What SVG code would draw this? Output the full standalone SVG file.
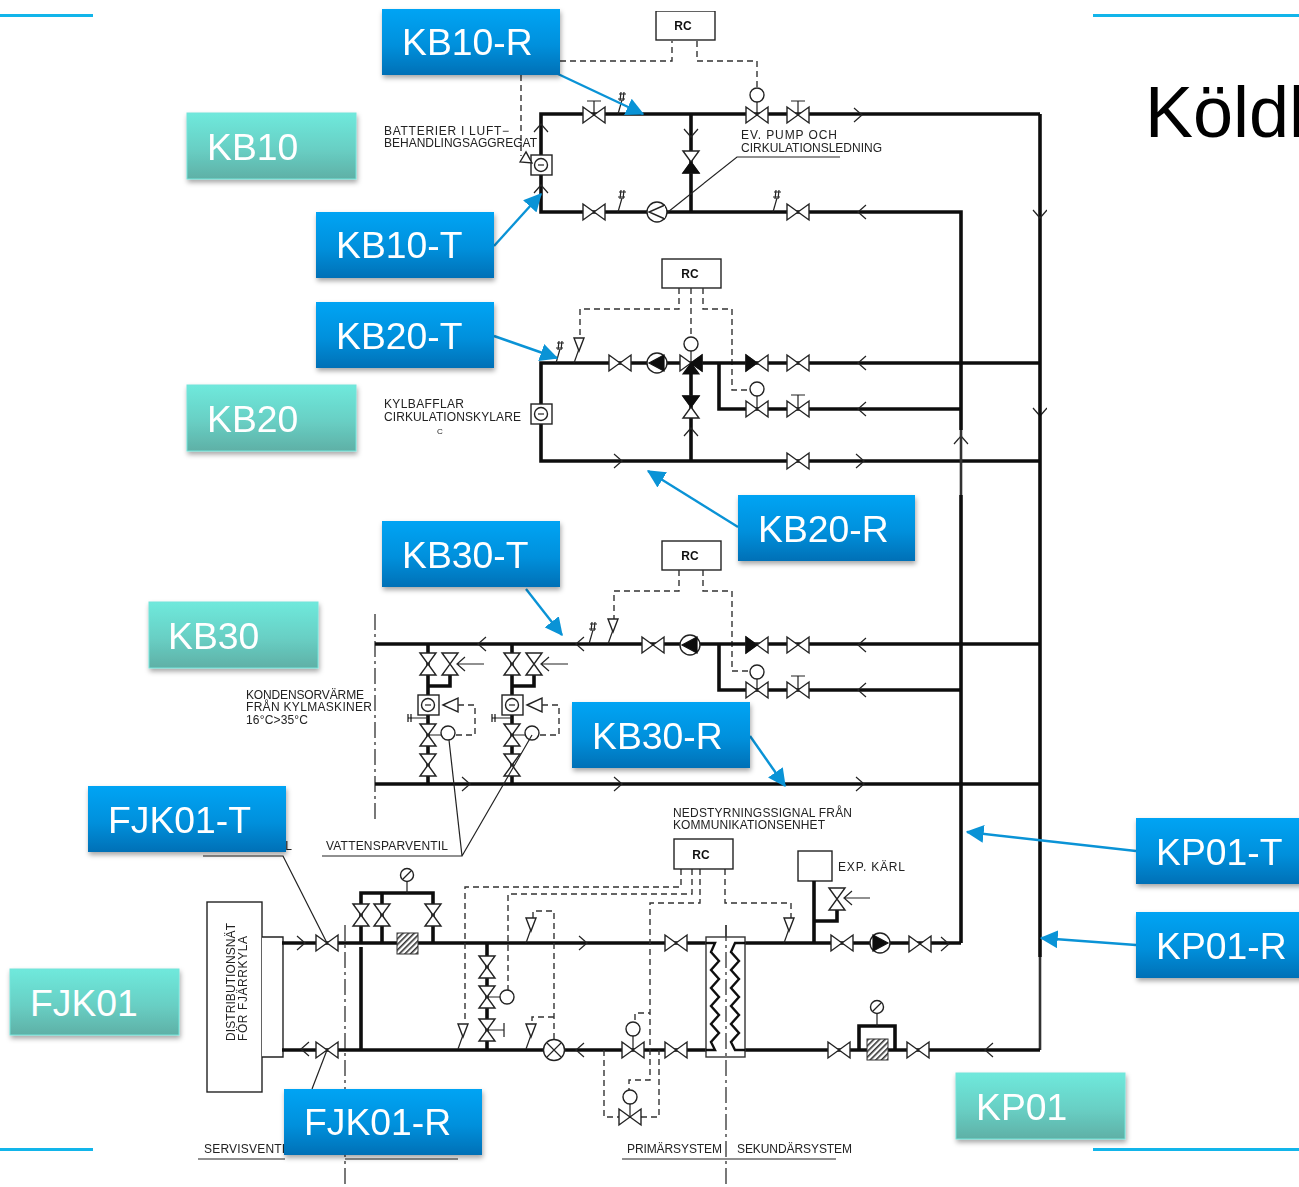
<svg xmlns="http://www.w3.org/2000/svg" width="1299" height="1187" viewBox="0 0 1299 1187">
<style>
text{font-family:"Liberation Sans",Arial,sans-serif}
.p{fill:none;stroke:#111;stroke-width:3.6;stroke-linejoin:miter}
.pg{fill:none;stroke:#333;stroke-width:2.6}
.l{fill:none;stroke:#222;stroke-width:1.2}
.d{fill:none;stroke:#333;stroke-width:1.4;stroke-dasharray:6 4}
.dd{fill:none;stroke:#333;stroke-width:1.3;stroke-dasharray:16 4 3 4}
.b{fill:#fff;stroke:#222;stroke-width:1.4}
.k{fill:#111;stroke:#111;stroke-width:1.2}
.t{font-size:12px;fill:#222}
.rc{font-size:12px;font-weight:700;fill:#111;text-anchor:middle}
.lb{font-size:37.300px;fill:#fff}
.blue{fill:url(#gb);filter:url(#sh)}
.teal{fill:url(#gt);stroke:#74e4da;stroke-width:1;filter:url(#sh)}
.cy{stroke:#12b5ea;stroke-width:3;fill:none}
.ar{stroke:#0a93d6;stroke-width:2.4;fill:none;marker-end:url(#ah)}
</style>
<defs>
<linearGradient id="gb" x1="0" y1="0" x2="0" y2="1"><stop offset="0" stop-color="#00a4f4"/><stop offset=".55" stop-color="#0090dc"/><stop offset="1" stop-color="#0070b6"/></linearGradient>
<linearGradient id="gt" x1="0" y1="0" x2="0" y2="1"><stop offset="0" stop-color="#6fe9dc"/><stop offset=".55" stop-color="#68cfc4"/><stop offset="1" stop-color="#5fb0a6"/></linearGradient>
<filter id="sh" x="-10%" y="-15%" width="120%" height="135%"><feDropShadow dx="1" dy="3" stdDeviation="2.5" flood-color="#000" flood-opacity=".35"/></filter>
<filter id="soft" x="0" y="0" width="100%" height="100%"><feGaussianBlur stdDeviation="0.35"/></filter>
<marker id="ah" viewBox="0 0 14 14" refX="13" refY="7" markerWidth="18" markerHeight="18" markerUnits="userSpaceOnUse" orient="auto"><path d="M0,0L14,7L0,14Z" fill="#0a93d6"/></marker>
<path id="v" class="b" d="M-11,-8L11,8V-8L-11,8Z"/>
<path id="vv" class="b" d="M-8,-11L8,11H-8L8,-11Z"/>
<g id="vt"><path class="l" d="M0,0V-14M-7,-14H7"/><use href="#v"/></g>
<g id="vL"><use href="#v"/><path class="k" d="M-11,-8L0,0L-11,8Z"/></g>
<path id="cr" class="l" d="M-6,-7L2,0L-6,7"/>
<path id="cl" class="l" d="M6,-7L-2,0L6,7"/>
<path id="cu" class="l" d="M-7,6L0,-2L7,6"/>
<path id="cd" class="l" d="M-7,-6L0,2L7,-6"/>
<g id="ps"><path class="l" d="M-4,0L0,-14"/><path class="l" d="M-3,-20H4M-4,-15H3M-1,-22L-2,-13M2,-22L1,-13"/></g>
<g id="fs"><path class="l" d="M-5,0L0,-14"/><path class="b" d="M-5,-25H5L0,-12Z"/></g>
<g id="pL"><circle class="b" r="10"/><path class="b" d="M8,-7L-8,0L8,7"/></g>
<g id="pB"><circle class="b" r="10"/><path class="k" d="M7,-8L-8,0L7,8Z"/></g>
<g id="pR"><circle class="b" r="10"/><path class="k" d="M-7,-8L8,0L-7,8Z"/></g>
<circle id="ac" class="b" r="7"/>
<g id="bx"><rect class="b" x="-10" y="-10" width="21" height="20"/><circle class="b" r="6.5"/><path class="l" d="M-3,0H3"/></g>
<g id="ga"><circle class="b" r="6.5"/><path class="l" d="M-4,4L4,-4"/></g>
<pattern id="ha" width="4" height="4" patternUnits="userSpaceOnUse" patternTransform="rotate(-45)"><rect width="4" height="4" fill="#fff"/><rect width="4" height="1.6" fill="#333"/></pattern>
<g id="mod">
<path class="p" d="M0,0V140M0,42H22V28"/>
<use href="#vv" y="20"/><use href="#vv" x="22" y="20"/>
<path class="l" d="M56,20H30M37,13L29,20L37,27"/>
<use href="#bx" y="61"/>
<path class="b" d="M15,61L30,54V68Z"/>
<path class="d" d="M30,61H47V91H27"/>
<path class="l" d="M0,91H14M-20,74H0"/>
<path class="k" d="M-20,70V78M-17,70V78"/>
<use href="#vv" y="91"/><use href="#vv" y="121"/>
<use href="#ac" x="20" y="89"/>
</g>
</defs>

<rect width="1299" height="1187" fill="#fff"/>
<g id="frame">
<path class="cy" d="M0,15.500H93M1093,15.500H1299M0,1149.500H93M1093,1149.500H1299"/>
<text x="1145" y="137" font-size="72" fill="#000">Köldl</text>
</g>

<g id="schematic" filter="url(#soft)">
<g id="kb10-circuit">
<rect class="b" x="656" y="11" width="59" height="29"/><text class="rc" x="683" y="30">RC</text>
<path class="d" d="M560,61H672V41M697,41V61H757V88M521,75V156"/>
<path class="p" d="M1040,114H541V212H961V430M691,114V212"/>
<path class="p" d="M1040,114V395"/>
<use href="#vt" x="594" y="115"/><use href="#ps" x="622" y="114"/>
<path class="l" d="M757,102V115"/><use href="#ac" x="757" y="95"/><use href="#v" x="757" y="115"/>
<use href="#vt" x="798" y="115"/><use href="#cr" x="860" y="115"/>
<use href="#cd" x="691" y="135"/><use href="#vv" x="691" y="162"/><path class="k" d="M683,173L691,162L699,173Z"/>
<use href="#bx" x="541" y="165"/><path class="b" d="M520,162L526,152L532,163Z"/>
<use href="#cu" x="541" y="126"/><use href="#cu" x="541" y="187"/>
<use href="#cd" x="1040" y="216"/>
<use href="#v" x="594" y="212"/><use href="#ps" x="622" y="212"/><use href="#pL" x="657" y="212"/>
<use href="#ps" x="777" y="212"/><use href="#v" x="798" y="212"/><use href="#cl" x="860" y="212"/>
<path class="l" d="M840,157H737L668,212"/>
<text class="t" x="384" y="135" textLength="125" lengthAdjust="spacing">BATTERIER I LUFT−</text>
<text class="t" x="384" y="147" textLength="153" lengthAdjust="spacing">BEHANDLINGSAGGREGAT</text>
<text class="t" x="741" y="139" textLength="96" lengthAdjust="spacing">EV. PUMP OCH</text>
<text class="t" x="741" y="152" textLength="141" lengthAdjust="spacing">CIRKULATIONSLEDNING</text>
</g>

<g id="kb20-circuit">
<rect class="b" x="662" y="259" width="59" height="29"/><text class="rc" x="690" y="278">RC</text>
<path class="d" d="M679,288V309H580V338M703,288V309H732V390H750"/>
<path class="d" d="M691,288V338" stroke-dasharray="10 3"/>
<path class="p" d="M1040,363H541V461H1040M691,363V461M719,363V409H961"/>
<use href="#ps" x="560" y="363"/><use href="#fs" x="579" y="363"/>
<use href="#v" x="620" y="363"/><use href="#pB" x="657" y="363"/>
<path class="l" d="M691,351V363"/><use href="#ac" x="691" y="344"/>
<use href="#v" x="691" y="363"/><path class="k" d="M691,363L683,374H699ZM691,363L702,355V371Z"/>
<use href="#vL" x="757" y="363"/><use href="#v" x="798" y="363"/><use href="#cl" x="860" y="363"/>
<path class="l" d="M757,396V409"/><use href="#ac" x="757" y="389"/><use href="#v" x="757" y="409"/><use href="#vt" x="798" y="409"/><use href="#cl" x="860" y="409"/>
<use href="#vv" x="691" y="407"/><path class="k" d="M683,396H699L691,407Z"/><use href="#cu" x="691" y="430"/>
<use href="#bx" x="541" y="414"/>
<use href="#cr" x="620" y="461"/><use href="#v" x="798" y="461"/><use href="#cr" x="862" y="461"/>
<use href="#cu" x="961" y="438"/><use href="#cd" x="1040" y="414"/>
<text class="t" x="384" y="408" textLength="80" lengthAdjust="spacing">KYLBAFFLAR</text>
<text class="t" x="384" y="421" textLength="137" lengthAdjust="spacing">CIRKULATIONSKYLARE</text>
<text x="437" y="434" fill="#222" style="font-size:8px">C</text>
</g>

<g id="kb30-circuit">
<rect class="b" x="662" y="541" width="59" height="29"/><text class="rc" x="690" y="560">RC</text>
<path class="d" d="M679,570V591H614V619M703,570V591H732V671H750"/>
<path class="dd" d="M375,614V820"/>
<path class="p" d="M1040,644H375M1040,784H375M719,644V690H961"/>
<use href="#cl" x="480" y="644"/><use href="#cl" x="578" y="644"/>
<use href="#ps" x="593" y="644"/><use href="#fs" x="613" y="644"/>
<use href="#v" x="653" y="645"/><use href="#pB" x="690" y="645"/>
<use href="#vL" x="757" y="645"/><use href="#v" x="798" y="645"/><use href="#cl" x="860" y="645"/>
<path class="l" d="M757,679V690"/><use href="#ac" x="757" y="672"/><use href="#v" x="757" y="690"/><use href="#vt" x="798" y="690"/><use href="#cl" x="860" y="690"/>
<use href="#mod" x="428" y="644"/><use href="#mod" x="512" y="644"/>
<use href="#cr" x="468" y="784"/><use href="#cr" x="620" y="784"/><use href="#cr" x="862" y="784"/>
<path class="l" d="M322,856H462L449,740M462,856L532,735"/>
<text class="t" x="246" y="699" textLength="118" lengthAdjust="spacing">KONDENSORVÄRME</text>
<text class="t" x="246" y="711" textLength="126" lengthAdjust="spacing">FRÅN  KYLMASKINER</text>
<text class="t" x="246" y="724" textLength="62" lengthAdjust="spacing">16°C&gt;35°C</text>
<text class="t" x="326" y="850" textLength="122" lengthAdjust="spacing">VATTENSPARVENTIL</text>
</g>

<g id="kp01-circuit">
<path class="pg" d="M961,430V495"/>
<path class="p" d="M961,495V943"/><path class="p" d="M1040,395V957"/>
<path class="pg" d="M1040,957V1050"/>
</g>

<g id="fjk01-circuit">
<rect class="b" x="207" y="902" width="55" height="190"/>
<path class="b" d="M262,937H283V1057H262"/>
<text class="t" transform="translate(235,1041) rotate(-90)" textLength="118" lengthAdjust="spacing">DISTRIBUTIONSNÄT</text>
<text class="t" transform="translate(247,1041) rotate(-90)" textLength="105" lengthAdjust="spacing">FÖR  FJÄRRKYLA</text>
<path class="dd" d="M345,925V1187"/>
<path class="dd" d="M726,925V1187"/>
<path class="p" d="M282,943H961M282,1050H1040M361,947V1050M361,943V893H433V943M382,893V943"/>
<use href="#cr" x="303" y="943"/><use href="#v" x="327" y="943"/>
<use href="#cl" x="303" y="1049"/><use href="#v" x="327" y="1050"/>
<use href="#vv" x="361" y="915"/><use href="#vv" x="382" y="915"/><use href="#vv" x="433" y="915"/>
<path class="l" d="M407,881V893"/><use href="#ga" x="407" y="875"/>
<rect x="397" y="933" width="21" height="21" fill="url(#ha)" stroke="#333"/>
<path class="d" d="M681,869V887H465V1023M692,869V894H508V990M700,869V903H650V1080H629V1090M725,869V903H791V918"/>
<path class="d" d="M635,1020V1013H650M604,1050V1117H620M641,1117H659V1050"/>
<path class="d" d="M533,918V911H554V1040M554,1017H532V1024"/>
<use href="#fs" x="531" y="943"/><use href="#fs" x="789" y="943"/>
<use href="#fs" x="463" y="1049"/><use href="#fs" x="531" y="1049"/>
<use href="#cr" x="585" y="943"/>
<path class="p" d="M487,943V1050"/>
<use href="#vv" x="487" y="967"/><use href="#vv" x="487" y="997"/><use href="#vv" x="487" y="1030"/>
<path class="l" d="M487,997H500M487,1030H504M504,1023V1037"/><use href="#ac" x="507" y="997"/>
<circle class="b" cx="554" cy="1050" r="10.500"/><path class="l" d="M547,1043L561,1057M561,1043L547,1057"/>
<use href="#cl" x="578" y="1050"/>
<path class="l" d="M633,1036V1049M630,1104V1117"/>
<use href="#ac" x="633" y="1029"/><use href="#v" x="633" y="1050"/>
<use href="#ac" x="630" y="1097"/><use href="#v" x="630" y="1117"/>
<use href="#v" x="676" y="943"/><use href="#v" x="676" y="1050"/>
<rect x="706" y="937" width="39" height="120" fill="#fff" stroke="#333" stroke-width="1.400"/>
<path class="dd" d="M726,925V1060"/>
<path class="p" style="stroke-width:2.400" d="M706,943H715L711,952L719,961L711,970L719,979L711,988L719,997L711,1006L719,1015L711,1024L719,1033L711,1042L715,1050H706"/>
<path class="p" style="stroke-width:2.400" d="M745,943H735L731,952L739,961L731,970L739,979L731,988L739,997L731,1006L739,1015L731,1024L739,1033L731,1042L735,1050H745"/>
<rect class="b" x="798" y="851" width="34" height="30"/>
<path class="p" d="M814,881V943M814,921H837V908"/>
<use href="#vv" x="837" y="899"/>
<path class="l" d="M870,898H845M852,891L844,898L852,905"/>
<use href="#v" x="842" y="943"/><use href="#pR" x="880" y="943"/><use href="#v" x="920" y="944"/><use href="#cr" x="947" y="944"/>
<use href="#v" x="839" y="1050"/><use href="#v" x="918" y="1050"/><use href="#cl" x="987" y="1050"/>
<path class="p" d="M859,1050V1026H895V1050"/>
<path class="l" d="M877,1014V1026"/><use href="#ga" x="877" y="1007"/>
<rect x="867" y="1039" width="21" height="21" fill="url(#ha)" stroke="#333"/>
<rect class="b" x="674" y="839" width="59" height="30"/><text class="rc" x="701" y="859">RC</text>
<text class="t" x="673" y="817" textLength="179" lengthAdjust="spacing">NEDSTYRNINGSSIGNAL  FRÅN</text>
<text class="t" x="673" y="829" textLength="152" lengthAdjust="spacing">KOMMUNIKATIONSENHET</text>
<text class="t" x="838" y="871" textLength="67" lengthAdjust="spacing">EXP.  KÄRL</text>
<text class="t" x="627" y="1153" textLength="95" lengthAdjust="spacing">PRIMÄRSYSTEM</text>
<text class="t" x="737" y="1153" textLength="115" lengthAdjust="spacing">SEKUNDÄRSYSTEM</text>
<path class="l" d="M622,1159H836M345,1159H458M198,1159H285M203,856H283L327,943M327,1050L312,1089"/>
<text class="t" x="204" y="850" textLength="88" lengthAdjust="spacing">SERVISVENTIL</text>
<text class="t" x="204" y="1153" textLength="88" lengthAdjust="spacing">SERVISVENTIL</text>
</g>
</g>

<g id="connectors">
<path class="ar" d="M558,74L643,114"/>
<path class="ar" d="M494,246L541,194"/>
<path class="ar" d="M494,336L557,358"/>
<path class="ar" d="M738,527L648,471"/>
<path class="ar" d="M526,589L562,635"/>
<path class="ar" d="M750,736L785,786"/>
<path class="ar" d="M1136,851L967,832"/>
<path class="ar" d="M1136,945L1041,938"/>
</g>

<g id="KB10-R"><rect class="blue" x="382" y="9" width="178" height="66"/><text class="lb" x="402" y="55">KB10-R</text></g>
<g id="KB10-T"><rect class="blue" x="316" y="212" width="178" height="66"/><text class="lb" x="336" y="258">KB10-T</text></g>
<g id="KB20-T"><rect class="blue" x="316" y="302" width="178" height="66"/><text class="lb" x="336" y="349">KB20-T</text></g>
<g id="KB20-R"><rect class="blue" x="738" y="495" width="177" height="66"/><text class="lb" x="758" y="542">KB20-R</text></g>
<g id="KB30-T"><rect class="blue" x="382" y="521" width="178" height="66"/><text class="lb" x="402" y="568">KB30-T</text></g>
<g id="KB30-R"><rect class="blue" x="572" y="702" width="178" height="66"/><text class="lb" x="592" y="749">KB30-R</text></g>
<g id="FJK01-T"><rect class="blue" x="88" y="786" width="198" height="66"/><text class="lb" x="108" y="833">FJK01-T</text></g>
<g id="FJK01-R"><rect class="blue" x="284" y="1089" width="198" height="66"/><text class="lb" x="304" y="1135">FJK01-R</text></g>
<g id="KP01-T"><rect class="blue" x="1136" y="818" width="170" height="66"/><text class="lb" x="1156" y="865">KP01-T</text></g>
<g id="KP01-R"><rect class="blue" x="1136" y="912" width="170" height="66"/><text class="lb" x="1156" y="959">KP01-R</text></g>
<g id="KB10"><rect class="teal" x="187" y="113" width="169" height="66"/><text class="lb" x="207" y="160">KB10</text></g>
<g id="KB20"><rect class="teal" x="187" y="385" width="169" height="66"/><text class="lb" x="207" y="432">KB20</text></g>
<g id="KB30"><rect class="teal" x="149" y="602" width="169" height="66"/><text class="lb" x="168" y="649">KB30</text></g>
<g id="FJK01"><rect class="teal" x="10" y="969" width="169" height="66"/><text class="lb" x="30" y="1016">FJK01</text></g>
<g id="KP01"><rect class="teal" x="956" y="1073" width="169" height="66"/><text class="lb" x="976" y="1120">KP01</text></g>
</svg>
